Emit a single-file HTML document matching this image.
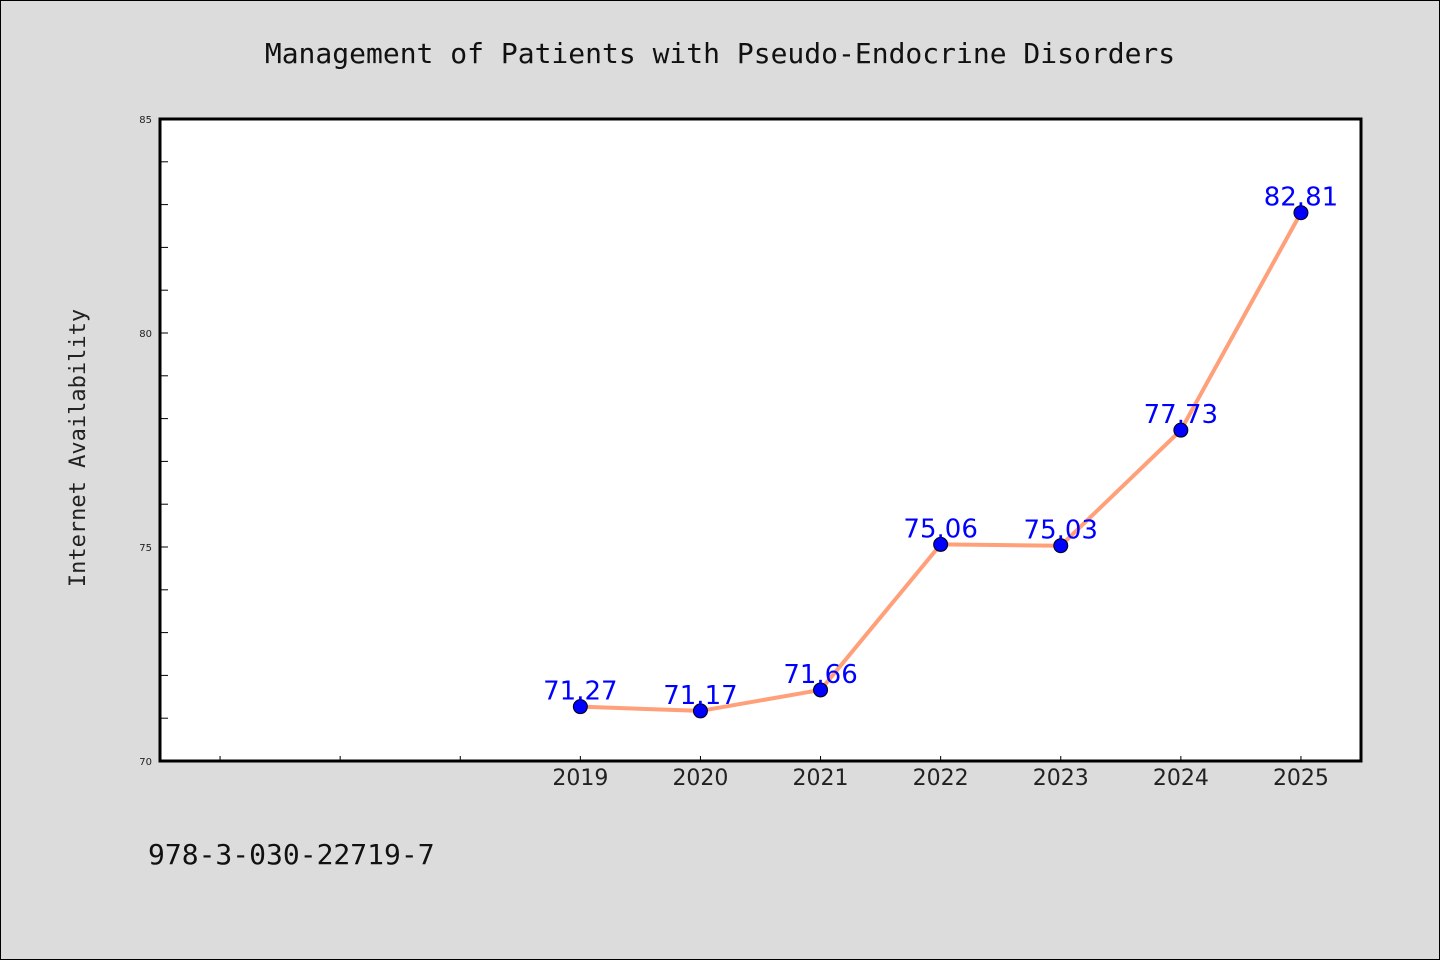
<!DOCTYPE html>
<html><head><meta charset="utf-8"><style>
html,body{margin:0;padding:0;background:#dcdcdc;}
svg{display:block;font-family:"DejaVu Sans","Liberation Sans",sans-serif;}
</style></head><body>
<svg id="chart" width="1440" height="960" viewBox="0 0 1440 960">
<rect x="0.5" y="0.5" width="1439" height="959" fill="#dcdcdc" stroke="#000" stroke-width="1"/>
<text x="720" y="63" text-anchor="middle" font-family="'DejaVu Sans Mono','Liberation Mono',monospace" font-size="28" fill="#111">Management of Patients with Pseudo-Endocrine Disorders</text>
<rect x="160" y="119" width="1201" height="642" fill="#fff"/>
<g id="axes"></g>
<g id="marks"></g>
<rect x="160" y="119" width="1201" height="642" fill="none" stroke="#000" stroke-width="3"/>
<text transform="translate(85,448) rotate(-90)" text-anchor="middle" font-family="'DejaVu Sans Mono','Liberation Mono',monospace" font-size="22" fill="#222">Internet Availability</text>
<text x="148" y="864" font-family="'DejaVu Sans Mono','Liberation Mono',monospace" font-size="28" fill="#111">978-3-030-22719-7</text>
</svg>
<script>
const categories = ["", "", "", "2019", "2020", "2021", "2022", "2023", "2024", "2025"];
const values = [null, null, null, 71.27, 71.17, 71.66, 75.06, 75.03, 77.73, 82.81];
const valueLabels = ["", "", "", "71.27", "71.17", "71.66", "75.06", "75.03", "77.73", "82.81"];
const yTicks = [70, 75, 80, 85];
const yMin = 70, yMax = 85;
const L=160, R=1361, T=119, B=761;
const NS="http://www.w3.org/2000/svg";
const slot=(R-L)/categories.length;
function xPos(i){return L+slot*(i+0.5);}
function yPos(v){return B-(v-yMin)/(yMax-yMin)*(B-T);}
const axes=document.getElementById('axes'), marks=document.getElementById('marks');
function mk(tag,attrs,parent){const e=document.createElementNS(NS,tag);for(const k in attrs)e.setAttribute(k,attrs[k]);parent.appendChild(e);return e;}
for(let v=yMin+1; v<yMax; v++){
  const t=mk('line',{x1:L,x2:L+8,y1:yPos(v),y2:yPos(v),stroke:'#000','stroke-width':1},axes);
  
  
}
yTicks.forEach(v=>{
  const t=mk('text',{x:L-8,y:yPos(v)+4,'text-anchor':'end','font-size':10,fill:'#222'},axes);
  t.textContent=v;
  
  
});
categories.forEach((c,i)=>{
  const t=mk('line',{x1:xPos(i),x2:xPos(i),y1:B,y2:B-5,stroke:'#000','stroke-width':1},axes);
  
  
  const lb=mk('text',{x:xPos(i),y:B+24,'text-anchor':'middle','font-size':22,fill:'#222'},axes);
  lb.textContent=c;
  
  
});
const pts=[];
values.forEach((v,i)=>{if(v!==null)pts.push([xPos(i),yPos(v),i]);});
const line=mk('polyline',{points:pts.map(p=>p[0]+','+p[1]).join(' '),fill:'none',stroke:'#ffa07a','stroke-width':4,'stroke-linejoin':'round'},marks);


pts.forEach(p=>{
  const c=mk('circle',{cx:p[0],cy:p[1],r:7,fill:'#0000ff',stroke:'#000','stroke-width':1},marks);
  
  
});
pts.forEach(p=>{
  const t=mk('text',{x:p[0],y:p[1]-7,'text-anchor':'middle','font-size':26,fill:'#0000ff'},marks);
  t.textContent=valueLabels[p[2]];
  
  
});
</script>
</body></html>
